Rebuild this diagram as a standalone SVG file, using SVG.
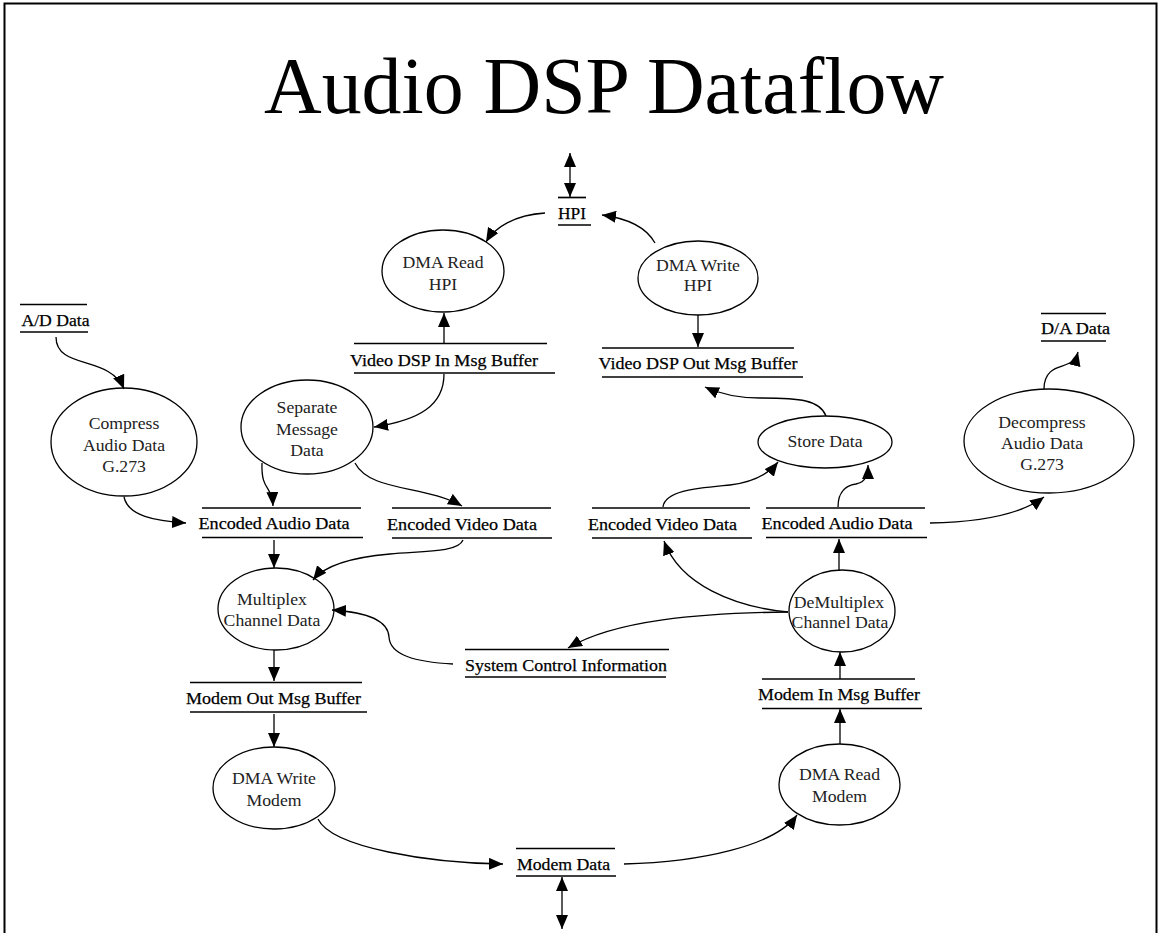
<svg xmlns="http://www.w3.org/2000/svg" width="1161" height="933" viewBox="0 0 1161 933">
<style>
.frame{fill:none;stroke:#000;stroke-width:2}
.title{font-family:"Liberation Serif",serif;font-size:80px;fill:#000}
.proc ellipse{fill:#fff;stroke:#000;stroke-width:1.3}
.proc text{font-family:"Liberation Serif",serif;font-size:17.7px;fill:#222;text-anchor:middle}
.store line{stroke:#000;stroke-width:1.7}
.store text{font-family:"Liberation Serif",serif;font-size:17.5px;fill:#000;stroke:#000;stroke-width:0.25;text-anchor:middle}
.conn path{fill:none;stroke:#000;stroke-width:1.3;marker-end:url(#ah)}
.conn path.both{marker-start:url(#ah)}
</style>
<defs>
<marker id="ah" viewBox="0 0 14 12" refX="14" refY="6" markerWidth="14" markerHeight="12" markerUnits="userSpaceOnUse" orient="auto-start-reverse">
<path d="M0,0 L14,6 L0,12 z" fill="#000"/>
</marker>
</defs>
<rect width="1161" height="933" fill="#fff"/>
<rect class="frame" x="4.5" y="3.5" width="1152" height="940"/>
<text class="title" x="264" y="113" textLength="680" lengthAdjust="spacingAndGlyphs">Audio DSP Dataflow</text>

<g id="store-hpi" class="store"><line x1="558" y1="197.5" x2="586" y2="197.5"/><line x1="558" y1="225" x2="591" y2="225"/><text x="572" y="219" textLength="28" lengthAdjust="spacingAndGlyphs">HPI</text></g>
<g id="store-ad" class="store"><line x1="20" y1="304.5" x2="87" y2="304.5"/><line x1="20" y1="332" x2="88" y2="332"/><text x="55.5" y="326" textLength="68" lengthAdjust="spacingAndGlyphs">A/D Data</text></g>
<g id="store-vin" class="store"><line x1="354" y1="343.5" x2="547" y2="343.5"/><line x1="354" y1="373" x2="555" y2="373"/><text x="444" y="366" textLength="188" lengthAdjust="spacingAndGlyphs">Video DSP In Msg Buffer</text></g>
<g id="store-vout" class="store"><line x1="602" y1="348" x2="794" y2="348"/><line x1="602" y1="377" x2="803" y2="377"/><text x="698" y="369" textLength="199" lengthAdjust="spacingAndGlyphs">Video DSP Out Msg Buffer</text></g>
<g id="store-da" class="store"><line x1="1041" y1="313.5" x2="1106" y2="313.5"/><line x1="1041" y1="341" x2="1106" y2="341"/><text x="1075.5" y="334" textLength="69" lengthAdjust="spacingAndGlyphs">D/A Data</text></g>
<g id="store-encaudio-l" class="store"><line x1="202" y1="508" x2="361" y2="508"/><line x1="202" y1="537.5" x2="363" y2="537.5"/><text x="274" y="529" textLength="151" lengthAdjust="spacingAndGlyphs">Encoded Audio Data</text></g>
<g id="store-encvideo-l" class="store"><line x1="392" y1="508" x2="551" y2="508"/><line x1="392" y1="538" x2="552" y2="538"/><text x="462" y="530" textLength="150" lengthAdjust="spacingAndGlyphs">Encoded Video Data</text></g>
<g id="store-encvideo-r" class="store"><line x1="592" y1="508" x2="750" y2="508"/><line x1="592" y1="538" x2="752" y2="538"/><text x="662.5" y="530" textLength="149" lengthAdjust="spacingAndGlyphs">Encoded Video Data</text></g>
<g id="store-encaudio-r" class="store"><line x1="766" y1="508" x2="925" y2="508"/><line x1="766" y1="537.5" x2="927" y2="537.5"/><text x="837" y="529" textLength="151" lengthAdjust="spacingAndGlyphs">Encoded Audio Data</text></g>
<g id="store-sysctrl" class="store"><line x1="465" y1="649.5" x2="669" y2="649.5"/><line x1="465" y1="677" x2="666" y2="677"/><text x="566" y="671" textLength="202" lengthAdjust="spacingAndGlyphs">System Control Information</text></g>
<g id="store-modemout" class="store"><line x1="190" y1="682.5" x2="362" y2="682.5"/><line x1="190" y1="712" x2="367" y2="712"/><text x="273.5" y="704" textLength="175" lengthAdjust="spacingAndGlyphs">Modem Out Msg Buffer</text></g>
<g id="store-modemin" class="store"><line x1="762" y1="679" x2="915" y2="679"/><line x1="762" y1="708.5" x2="922" y2="708.5"/><text x="839" y="700" textLength="162" lengthAdjust="spacingAndGlyphs">Modem In Msg Buffer</text></g>
<g id="store-modemdata" class="store"><line x1="516" y1="848.5" x2="615" y2="848.5"/><line x1="516" y1="876" x2="616" y2="876"/><text x="563.5" y="870" textLength="93" lengthAdjust="spacingAndGlyphs">Modem Data</text></g>

<g id="proc-dmareadhpi" class="proc"><ellipse cx="443" cy="271" rx="61" ry="41"/><text x="443" y="268">DMA Read</text><text x="443" y="290">HPI</text></g>
<g id="proc-dmawritehpi" class="proc"><ellipse cx="698" cy="278" rx="60" ry="37"/><text x="698" y="271">DMA Write</text><text x="698" y="291">HPI</text></g>
<g id="proc-separate" class="proc"><ellipse cx="307" cy="427" rx="66" ry="47"/><text x="307" y="413">Separate</text><text x="307" y="435">Message</text><text x="307" y="456">Data</text></g>
<g id="proc-compress" class="proc"><ellipse cx="124" cy="442" rx="73" ry="54"/><text x="124" y="429">Compress</text><text x="124" y="451">Audio Data</text><text x="124" y="472">G.273</text></g>
<g id="proc-multiplex" class="proc"><ellipse cx="276" cy="609" rx="58" ry="41"/><text x="272" y="605">Multiplex</text><text x="272" y="626">Channel Data</text></g>
<g id="proc-dmawritemodem" class="proc"><ellipse cx="274" cy="788" rx="61" ry="41"/><text x="274" y="784">DMA Write</text><text x="274" y="806">Modem</text></g>
<g id="proc-dmareadmodem" class="proc"><ellipse cx="839.5" cy="784.5" rx="60.5" ry="40.5"/><text x="839.5" y="780">DMA Read</text><text x="839.5" y="802">Modem</text></g>
<g id="proc-demultiplex" class="proc"><ellipse cx="842" cy="611" rx="53" ry="41"/><text x="839" y="608">DeMultiplex</text><text x="840" y="628">Channel Data</text></g>
<g id="proc-storedata" class="proc"><ellipse cx="825" cy="442" rx="67" ry="26"/><text x="825" y="447">Store Data</text></g>
<g id="proc-decompress" class="proc"><ellipse cx="1049" cy="441" rx="85" ry="52"/><text x="1042" y="428">Decompress</text><text x="1042" y="449">Audio Data</text><text x="1042" y="470">G.273</text></g>

<g id="connectors" class="conn">
<path class="both" d="M570,153 L570,197"/>
<path d="M545,213 C515,215 495,227 486,242"/>
<path d="M655,243 C645,225 625,218 602,215"/>
<path d="M444,343 L444,313"/>
<path d="M698,315 L698,347"/>
<path d="M444,374 C444,405 420,420 374,427"/>
<path d="M56,337 C56,370 110,355 124,389"/>
<path d="M124,497 C128,516 155,521 186,523"/>
<path d="M262,463 C261,492 272,484 273,506"/>
<path d="M355,463 C370,492 425,485 462,506"/>
<path d="M274,540 L274,568"/>
<path d="M463,540 C458,553 420,551 390,554 C355,557 325,565 313,580"/>
<path d="M274,650 L274,681"/>
<path d="M274,714 L274,747"/>
<path d="M318,819 C332,848 430,863 503,864"/>
<path class="both" d="M562,877 L562,929"/>
<path d="M624,864 C700,862 775,846 797,815"/>
<path d="M840,744 L840,709"/>
<path d="M840,679 L840,652"/>
<path d="M839,571 L839,539"/>
<path d="M788,612 C735,607 680,585 664,541"/>
<path d="M788,612 C700,613 615,620 568,648"/>
<path d="M453,664 C415,662 390,655 389,637 C388,620 365,612 332,610"/>
<path d="M663,507 C665,490 700,488 730,485 C755,482 770,472 778,462"/>
<path d="M838,507 C838,490 848,485 856,484 C866,482 868,475 868,465"/>
<path d="M826,416 C820,400 800,398 760,398 C735,398 718,393 705,387"/>
<path d="M930,523 C980,522 1020,515 1044,497"/>
<path d="M1044,389 C1044,372 1055,368 1062,366 C1072,363 1076,360 1078,352"/>
</g>
</svg>
